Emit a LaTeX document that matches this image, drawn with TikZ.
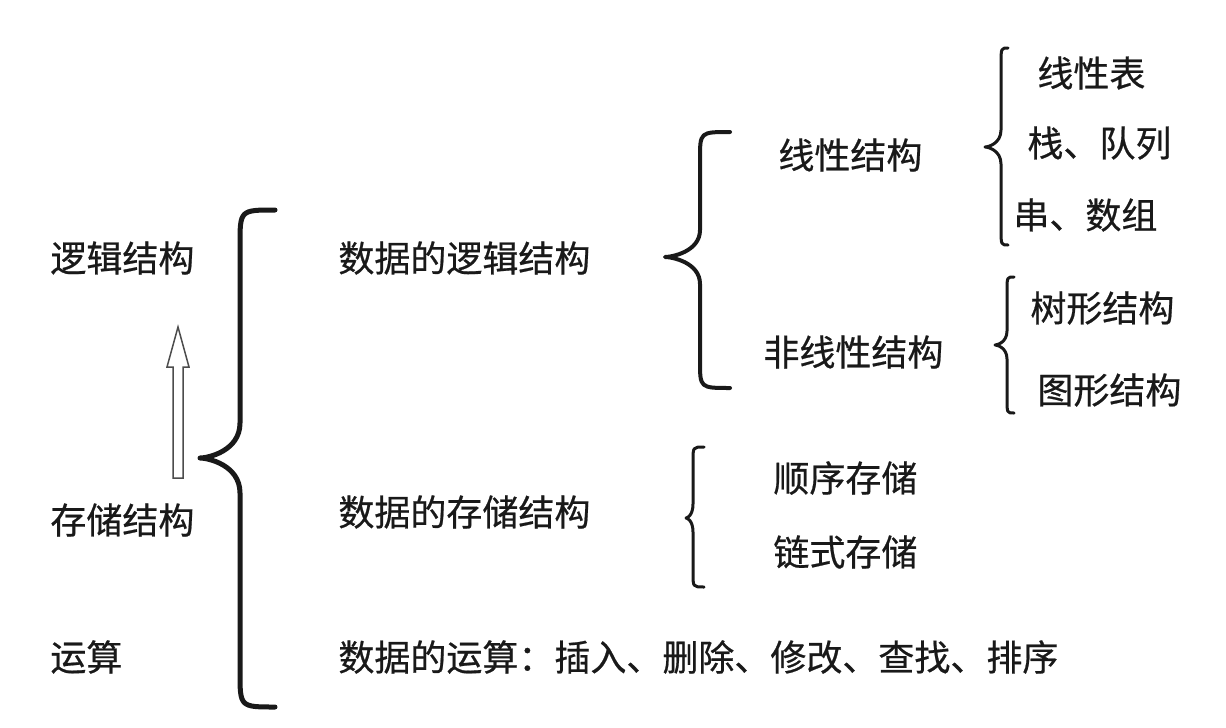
\documentclass[tikz,border=0pt]{standalone}
\usepackage{fontspec}
\newfontfamily\cjk[FakeBold=0.6]{Noto Sans CJK SC}
\begin{document}
\begin{tikzpicture}[x=0.5pt,y=-0.5pt,
  lbl/.style={anchor=west,inner sep=0pt,font=\cjk\fontsize{18pt}{20pt}\selectfont,text=black!90},
  bracepath/.style={draw=black!90,line cap=round,line join=round}]
\useasboundingbox (0,0) rectangle (1226,728);
\newcommand\drawbrace[8]{%
  \draw[bracepath,line width=#1] (#2,#5) .. controls (#3,#5) .. (#3,{#5+#8}) -- (#3,{#6-#8})
    .. controls (#3,{#6-0.2*#8}) and ({#4+0.2*(#3-#4)},#6) .. (#4,#6)
    .. controls ({#4+0.2*(#3-#4)},#6) and (#3,{#6+0.2*#8}) .. (#3,{#6+#8}) -- (#3,{#7-#8})
    .. controls (#3,#7) .. (#2,#7);}
% left column
\node[lbl] (luoji) at (50,258) {逻辑结构};
\node[lbl] (cunchu) at (50,520) {存储结构};
\node[lbl] (yunsuan) at (50,657) {运算};
% middle column
\node[lbl] (sjluoji) at (338,258) {数据的逻辑结构};
\node[lbl] (sjcunchu) at (338,512) {数据的存储结构};
\node[lbl] (sjyunsuan) at (338,657) {数据的运算：插入、删除、修改、查找、排序};
% logical
\node[lbl] (xianxing) at (778,155) {线性结构};
\node[lbl] (feixianxing) at (763,352) {非线性结构};
\node[lbl] (xxb) at (1037,73) {线性表};
\node[lbl] (zhan) at (1027,143) {栈、队列};
\node[lbl] (chuan) at (1013,215) {串、数组};
\node[lbl] (shu) at (1030,308) {树形结构};
\node[lbl] (tu) at (1037,390) {图形结构};
% storage
\node[lbl] (shunxu) at (773,478) {顺序存储};
\node[lbl] (lianshi) at (773,552) {链式存储};
% braces
\drawbrace{2.5pt}{275}{240}{200}{210}{458}{707}{35}
\drawbrace{2pt}{730}{700}{665}{132}{257}{388}{27}
\drawbrace{1.5pt}{1008}{1001}{985}{48}{147}{245}{17}
\drawbrace{1.5pt}{1014}{1007}{995}{277}{345}{413}{14}
\drawbrace{1.5pt}{704}{693}{686}{447}{518}{587}{14}
% hollow arrow
\draw[black!70,line width=0.75pt,line join=miter,fill=white]
  (173,478) -- (173,367) -- (167,367) -- (178,327) -- (189,367) -- (183,367) -- (183,478) -- cycle;
\end{tikzpicture}
\end{document}
